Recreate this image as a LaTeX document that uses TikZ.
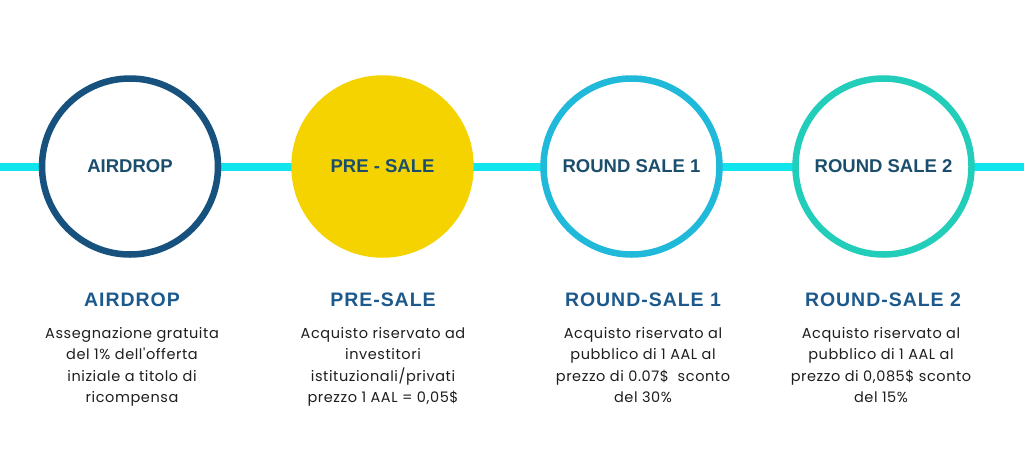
\documentclass[tikz,border=0pt]{standalone}
\usepackage{fontspec}
\setmainfont{Liberation Sans}
\newfontfamily\headfont[LetterSpace=5]{Liberation Sans}
\newfontfamily\bodyfont[LetterSpace=4]{Poppins}
\definecolor{lineC}{HTML}{10E4EC}
\definecolor{c1}{HTML}{17527E}
\definecolor{c2}{HTML}{F5D300}
\definecolor{c3}{HTML}{20B9D9}
\definecolor{c4}{HTML}{22CDB9}
\definecolor{ctext}{HTML}{1B4E6C}
\definecolor{chead}{HTML}{1C5A8E}
\definecolor{cbody}{HTML}{1E1E1E}
\tikzset{
  stage/.style={circle, minimum size=176pt, inner sep=0pt, line width=6.5pt, fill=white,
    font=\fontsize{18.5}{20}\selectfont\bfseries, text=ctext},
  heading/.style={anchor=center, inner sep=0pt, font=\headfont\fontsize{19.5}{22}\selectfont\bfseries, text=chead},
  body/.style={anchor=north, inner sep=0pt, align=center, font=\bodyfont\fontsize{14.5}{21.5}\selectfont, text=cbody}
}
\begin{document}
\begin{tikzpicture}[x=1pt,y=-1pt]
\useasboundingbox (0,0) rectangle (1024,450);
\fill[white] (0,0) rectangle (1024,450);
\coordinate (L) at (0,167);
\coordinate (R) at (1024,167);
\draw[lineC, line width=8pt] (L) -- (R);
\node[stage, draw=c1] (s1) at (130,166.5) {AIRDROP};
\node[stage, draw=c2, fill=c2] (s2) at (382.5,166.5) {PRE - SALE};
\node[stage, draw=c3] (s3) at (631.5,166.5) {ROUND SALE 1};
\node[stage, draw=c4] (s4) at (883.5,166.5) {ROUND SALE 2};
\node[heading] (h1) at (132,300) {AIRDROP};
\node[heading] (h2) at (383,300) {PRE-SALE};
\node[heading] (h3) at (643,300) {ROUND-SALE 1};
\node[heading] (h4) at (883,300) {ROUND-SALE 2};
\node[body] (b1) at (132,327) {Assegnazione gratuita\\del 1\% dell'offerta\\iniziale a titolo di\\ricompensa};
\node[body] (b2) at (383,327) {Acquisto riservato ad\\investitori\\istituzionali/privati\\prezzo 1 AAL = 0,05\$};
\node[body] (b3) at (643,327) {Acquisto riservato al\\pubblico di 1 AAL al\\prezzo di 0.07\$~ sconto\\del 30\%};
\node[body] (b4) at (881,327) {Acquisto riservato al\\pubblico di 1 AAL al\\prezzo di 0,085\$ sconto\\del 15\%};
\end{tikzpicture}
\end{document}
